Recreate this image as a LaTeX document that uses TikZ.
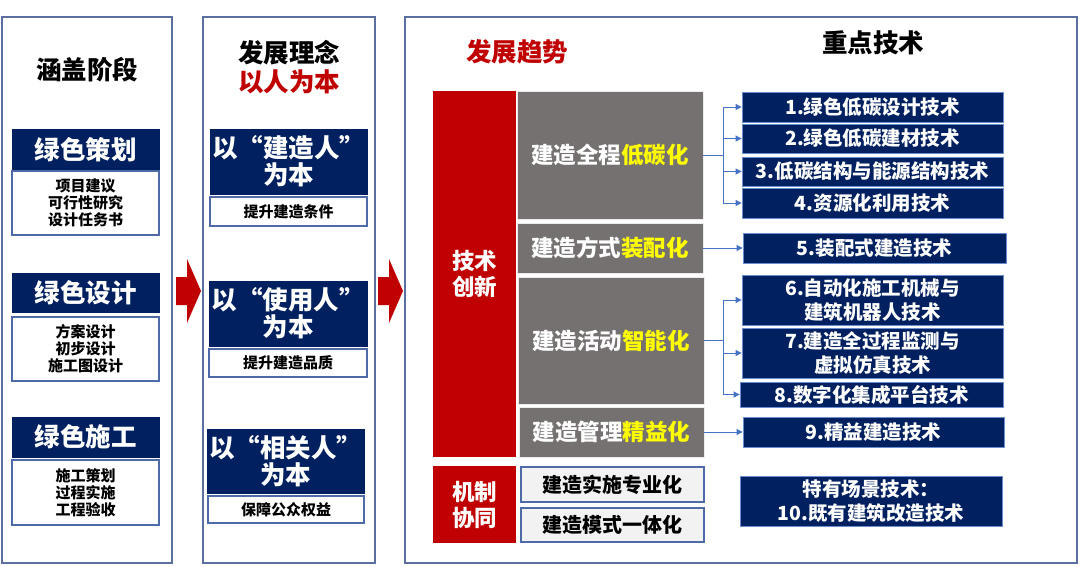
\documentclass[tikz,border=0pt]{standalone}
\usepackage{fontspec}
\setmainfont{Noto Sans CJK SC}
\usetikzlibrary{arrows.meta}
\definecolor{navy}{HTML}{002060}
\definecolor{redc}{HTML}{C00000}
\definecolor{grayc}{HTML}{767171}
\definecolor{hl}{HTML}{FFFF00}
\definecolor{panelc}{HTML}{5B6FA0}
\definecolor{boxc}{HTML}{4F6AA8}
\definecolor{linkc}{HTML}{4472C4}
\definecolor{lightc}{HTML}{F2F2F2}
\tikzset{
  panel/.style={draw=panelc, line width=1.6pt, fill=white},
  navybox/.style={fill=navy, draw=navy, text=white, inner sep=0pt, align=center, font=\bfseries\fontsize{25.5}{27}\selectfont},
  subbox/.style={fill=white, draw=boxc, line width=1.2pt, inner sep=0pt, align=center, text=black, font=\bfseries\fontsize{15}{17}\selectfont},
  titletext/.style={inner sep=0pt, align=center, font=\bfseries\fontsize{25.5}{29}\selectfont},
  redbox/.style={fill=redc, draw=none, text=white, inner sep=0pt, align=center, font=\bfseries\fontsize{22.5}{26}\selectfont},
  graybox/.style={fill=grayc, draw=white!85!gray, line width=0.8pt, text=white, inner sep=0pt, align=center, font=\bfseries\fontsize{22.5}{26}\selectfont},
  lightbox/.style={fill=lightc, draw=boxc, line width=1.1pt, text=black, inner sep=0pt, align=center, font=\bfseries\fontsize{20}{24}\selectfont},
  techbox/.style={fill=navy, draw=linkc!80!white, line width=0.8pt, text=white, inner sep=0pt, align=center, minimum width=261pt, font=\bfseries\fontsize{19.5}{24}\selectfont},
  link/.style={draw=linkc, line width=0.8pt},
  linkarrow/.style={link, -{Triangle[length=6pt,width=6pt]}},
  bigarrow/.style={fill=redc, draw=none}
}
\begin{document}
\begin{tikzpicture}[x=1pt,y=-1pt]
\useasboundingbox (0,0) rectangle (1080,566);
% ---- panels
\node[panel, minimum width=170pt, minimum height=546pt, inner sep=0pt] (pL) at (87,290) {};
\node[panel, minimum width=172pt, minimum height=546pt, inner sep=0pt] (pM) at (289,290) {};
\node[panel, minimum width=672pt, minimum height=546pt, inner sep=0pt] (pR) at (741,290) {};
% ---- left panel
\node[titletext] (tL) at (87,70) {涵盖阶段};
\node[navybox, minimum width=147pt, minimum height=41pt] (L1) at (85.5,149.5) {绿色策划};
\node[subbox, minimum width=147pt, minimum height=64pt] (L1w) at (85.5,203) {项目建议\\可行性研究\\设计任务书};
\node[navybox, minimum width=147pt, minimum height=39pt] (L2) at (85.5,292.5) {绿色设计};
\node[subbox, minimum width=147pt, minimum height=64pt] (L2w) at (85.5,349) {方案设计\\初步设计\\施工图设计};
\node[navybox, minimum width=147pt, minimum height=40pt] (L3) at (85.5,437) {绿色施工};
\node[subbox, minimum width=147pt, minimum height=65pt] (L3w) at (85.5,492.5) {施工策划\\过程实施\\工程验收};
% ---- middle panel
\node[titletext] (tM) at (289,53) {发展理念};
\node[titletext, text=redc] (tM2) at (289,82) {以人为本};
\node[navybox, minimum width=157pt, minimum height=65pt] (M1) at (288.5,161.5) {以“建造人”\\为本};
\node[subbox, minimum width=157pt, minimum height=29pt] (M1w) at (288.5,211.5) {提升建造条件};
\node[navybox, minimum width=158pt, minimum height=65pt] (M2) at (288,313.5) {以“使用人”\\为本};
\node[subbox, minimum width=158pt, minimum height=28pt] (M2w) at (288,363) {提升建造品质};
\node[navybox, minimum width=157pt, minimum height=64pt] (M3) at (285.5,461) {以“相关人”\\为本};
\node[subbox, minimum width=156pt, minimum height=27pt] (M3w) at (286,509.5) {保障公众权益};
% ---- big arrows
\fill[bigarrow] (176,277) -- (187,277) -- (187,259) -- (201,291) -- (187,323) -- (187,305) -- (176,305) -- cycle;
\fill[bigarrow] (378,277) -- (389,277) -- (389,259) -- (403,291) -- (389,323) -- (389,305) -- (378,305) -- cycle;
% ---- right panel
\node[titletext, text=redc] (tR1) at (517,52) {发展趋势};
\node[titletext] (tR2) at (873,43) {重点技术};
\node[redbox, minimum width=83pt, minimum height=366pt] (R1) at (474.5,274) {技术\\创新};
\node[graybox, minimum width=186pt, minimum height=128pt] (G1) at (610,155) {建造全程\textcolor{hl}{低碳化}};
\node[graybox, minimum width=186pt, minimum height=50pt] (G2) at (610,248) {建造方式\textcolor{hl}{装配化}};
\node[graybox, minimum width=186pt, minimum height=127pt] (G3) at (611,340.5) {建造活动\textcolor{hl}{智能化}};
\node[graybox, minimum width=185pt, minimum height=50pt] (G4) at (611.5,432) {建造管理\textcolor{hl}{精益化}};
\node[redbox, minimum width=83pt, minimum height=77pt] (R2) at (474.5,504.5) {机制\\协同};
\node[lightbox, minimum width=183pt, minimum height=35pt] (P1) at (612.5,484.5) {建造实施专业化};
\node[lightbox, minimum width=183pt, minimum height=34pt] (P2) at (612.5,525) {建造模式一体化};
% ---- tech boxes
\node[techbox, minimum height=30pt] (T1) at (872.5,107) {1.绿色低碳设计技术};
\node[techbox, minimum height=29pt] (T2) at (872.5,138.5) {2.绿色低碳建材技术};
\node[techbox, minimum height=29pt] (T3) at (872.5,171.5) {3.低碳结构与能源结构技术};
\node[techbox, minimum height=30pt] (T4) at (872.5,203) {4.资源化利用技术};
\node[techbox, minimum height=30pt, minimum width=263pt] (T5) at (874.5,248) {5.装配式建造技术};
\node[techbox, minimum height=50pt] (T6) at (872.5,300) {6.自动化施工机械与\\建筑机器人技术};
\node[techbox, minimum height=50pt] (T7) at (872.5,353) {7.建造全过程监测与\\虚拟仿真技术};
\node[techbox, minimum height=25pt, minimum width=263pt] (T8) at (871.5,394.5) {8.数字化集成平台技术};
\node[techbox, minimum height=30pt] (T9) at (873.5,432) {9.精益建造技术};
\node[techbox, minimum height=50pt, minimum width=262pt] (T10) at (871,501) {特有场景技术：\\10.既有建筑改造技术};
% ---- connectors
\coordinate (b1) at (723,155);
\coordinate (b2) at (723,340.5);
\draw[link] (G1.east) -- (b1);
\draw[linkarrow] (b1) |- (T1.west);
\draw[linkarrow] (b1) |- (T2.west);
\draw[linkarrow] (b1) |- (T3.west);
\draw[linkarrow] (b1) |- (T4.west);
\draw[linkarrow] (G2.east) -- (T5.west);
\draw[link] (G3.east) -- (b2);
\draw[linkarrow] (b2) |- (T6.west);
\draw[linkarrow] (b2) |- (T7.west);
\draw[linkarrow] (b2) |- (T8.west);
\draw[linkarrow] (G4.east) -- (T9.west);
\end{tikzpicture}
\end{document}
